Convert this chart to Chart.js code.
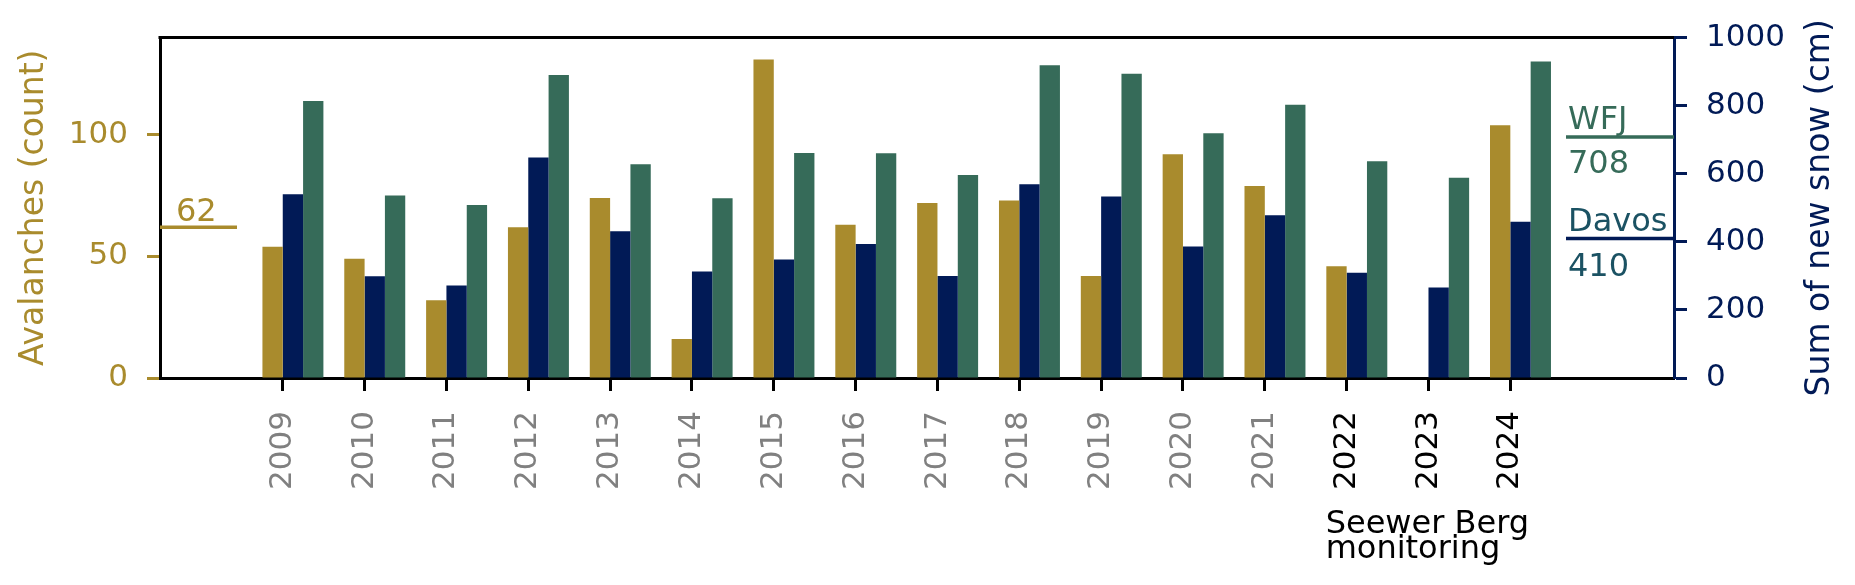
<!DOCTYPE html>
<html lang="en">

<head>
  <meta charset="UTF-8">
  <title>Avalanches and new snow</title>
  <script src="https://cdn.jsdelivr.net/npm/chart.js@4.4.1/dist/chart.umd.min.js"></script>
  <style>
    html,
    body {
      margin: 0;
      padding: 0;
      background: #fff;
    }

    .chart-box {
      position: relative;
      width: 1855px;
      height: 585px;
    }
  </style>
</head>

<body>
  <div class="chart-box">
    <canvas id="snowChart"></canvas>
  </div>

  <script>
    // data
    const years = [2009, 2010, 2011, 2012, 2013, 2014, 2015, 2016, 2017, 2018, 2019, 2020, 2021, 2022, 2023, 2024];
    const avalanches = [54, 49, 32, 62, 74, 16, 131, 63, 72, 73, 42, 92, 79, 46, null, 104];
    const snowDavos = [540, 299, 272, 648, 431, 313, 348, 394, 300, 569, 533, 386, 478, 309, 266, 459];
    const snowWFJ = [814, 536, 508, 890, 628, 528, 661, 660, 596, 919, 894, 719, 803, 637, 588, 930];

    // years covered by the Seewer Berg monitoring (black labels)
    const monitoredYears = [2022, 2023, 2024];

    // axis ticks
    const avalancheTicks = [0, 50, 100];
    const snowTicks = [0, 200, 400, 600, 800, 1000];

    // mean values marked at the sides
    const meanAvalanches = 62;
    const meanDavos = 410;
    const meanWFJ = 708;

    const gold = '#a98b2d';
    const navy = '#011a56';
    const green = '#366b59';
    const teal = '#1b5263';
    const grey = '#808080';

    const FONT = 'DejaVu Sans';
    const CATEGORY_PCT = 0.745;
    // bars sit with the tick on the left edge of the middle bar
    const BAR_SHIFT = CATEGORY_PCT / 6;

    Chart.defaults.font.family = FONT;
    Chart.defaults.font.size = 31;

    const toPoints = (vals) => vals.map((v, i) => ({ x: years[i] + BAR_SHIFT, y: v }));

    function drawMean(ctx, x1, x2, y, color) {
      ctx.strokeStyle = color;
      ctx.lineWidth = 3.5;
      ctx.beginPath();
      ctx.moveTo(x1, y);
      ctx.lineTo(x2, y);
      ctx.stroke();
    }

    // top frame, mean markers, right title and the monitoring note
    const overlay = {
      id: 'overlay',
      afterDraw(chart) {
        const { ctx, chartArea: area, scales } = chart;
        ctx.save();

        ctx.strokeStyle = '#000';
        ctx.lineWidth = 3;
        ctx.beginPath();
        ctx.moveTo(area.left - 1.5, area.top);
        ctx.lineTo(area.right, area.top);
        ctx.stroke();

        ctx.font = '32px "' + FONT + '"';
        ctx.textAlign = 'left';
        ctx.textBaseline = 'alphabetic';

        let y = scales.y.getPixelForValue(meanAvalanches);
        drawMean(ctx, area.left, area.left + 77, y, gold);
        ctx.fillStyle = gold;
        ctx.fillText(String(meanAvalanches), area.left + 16, y - 6);

        y = scales.y1.getPixelForValue(meanWFJ);
        drawMean(ctx, area.right - 108, area.right, y, green);
        ctx.fillStyle = green;
        ctx.fillText('WFJ', area.right - 106, y - 8);
        ctx.fillText(String(meanWFJ), area.right - 106, y + 36);

        y = scales.y1.getPixelForValue(meanDavos);
        drawMean(ctx, area.right - 108, area.right, y, navy);
        ctx.fillStyle = teal;
        ctx.fillText('Davos', area.right - 106, y - 7);
        ctx.fillText(String(meanDavos), area.right - 106, y + 38);

        // note under the monitored years
        const noteX = scales.x.getPixelForValue(monitoredYears[0]) - 21;
        ctx.fillStyle = '#000';
        ctx.fillText('Seewer Berg', noteX, area.bottom + 155);
        ctx.fillText('monitoring', noteX, area.bottom + 180);

        // right axis title, reading upwards
        ctx.font = '33px "' + FONT + '"';
        ctx.fillStyle = navy;
        ctx.textAlign = 'center';
        ctx.textBaseline = 'middle';
        ctx.translate(1820, (area.top + area.bottom) / 2);
        ctx.rotate(-Math.PI / 2);
        ctx.fillText('Sum of new snow (cm)', 0, 0);

        ctx.restore();
      }
    };

    new Chart(document.getElementById('snowChart'), {
      type: 'bar',
      data: {
        datasets: [
          { label: 'Avalanches', data: toPoints(avalanches), backgroundColor: gold, yAxisID: 'y' },
          { label: 'Davos', data: toPoints(snowDavos), backgroundColor: navy, yAxisID: 'y1' },
          { label: 'WFJ', data: toPoints(snowWFJ), backgroundColor: green, yAxisID: 'y1' }
        ]
      },
      options: {
        responsive: true,
        maintainAspectRatio: false,
        animation: false,
        layout: { padding: { top: 36, left: 0, right: 0, bottom: 0 } },
        datasets: {
          bar: { categoryPercentage: CATEGORY_PCT, barPercentage: 1, borderWidth: 0 }
        },
        plugins: {
          legend: { display: false },
          tooltip: { enabled: false }
        },
        scales: {
          x: {
            type: 'linear',
            offset: false,
            min: years[0] - 1.5,
            max: years[years.length - 1] + 2,
            afterBuildTicks: (s) => { s.ticks = years.map(v => ({ value: v })); },
            afterFit: (s) => { s.height = 207; },
            ticks: {
              autoSkip: false,
              minRotation: 90,
              maxRotation: 90,
              padding: 20,
              font: { size: 31 },
              color: (c) => monitoredYears.includes(c.tick.value) ? '#000' : grey,
              callback: (v) => String(v)
            },
            grid: {
              offset: false,
              drawOnChartArea: false,
              tickLength: 13,
              tickWidth: 3,
              tickColor: '#000'
            },
            border: { color: '#000', width: 3 }
          },
          y: {
            position: 'left',
            min: 0,
            max: 140,
            afterBuildTicks: (s) => { s.ticks = avalancheTicks.map(v => ({ value: v })); },
            afterFit: (s) => { s.width = 160; },
            ticks: { color: gold, padding: 19, font: { size: 31 }, callback: (v) => String(v) },
            grid: {
              drawOnChartArea: false,
              tickLength: 13,
              tickWidth: 3,
              tickColor: gold
            },
            border: { color: '#000', width: 3 },
            title: {
              display: true,
              text: 'Avalanches (count)',
              color: gold,
              font: { size: 33 },
              padding: { top: 15, bottom: 0 }
            }
          },
          y1: {
            position: 'right',
            min: 0,
            max: 1000,
            afterBuildTicks: (s) => { s.ticks = snowTicks.map(v => ({ value: v })); },
            afterFit: (s) => { s.width = 181; },
            ticks: { color: navy, padding: 19, font: { size: 31 }, callback: (v) => String(v) },
            grid: {
              drawOnChartArea: false,
              tickLength: 13,
              tickWidth: 3,
              tickColor: navy
            },
            border: { color: navy, width: 3 }
          }
        }
      },
      plugins: [overlay]
    });
  </script>
</body>

</html>
